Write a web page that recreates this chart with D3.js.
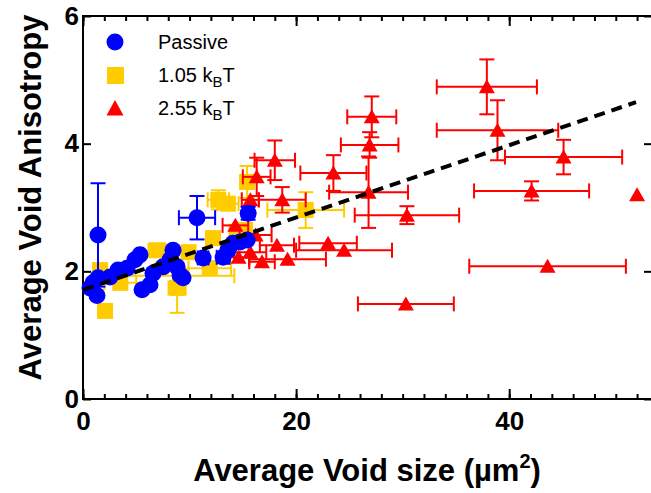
<!DOCTYPE html>
<html>
<head>
<meta charset="utf-8">
<script src="https://cdn.jsdelivr.net/npm/d3@7"></script>
<style>
  body { margin: 0; background: #fff; }
  svg { display: block; font-family: "Liberation Sans", Arial, sans-serif; }
</style>
</head>
<body>
<script>
// Passive: [x, y, xerr, yerr]
const passive = [
    [1.41, 2.57, 0, 0.81], [10.7, 2.84, 1.7, 0.34], [15.5, 2.91, 0.4, 0.1],
    [5.35, 2.26, 0.3, 0], [4.88, 2.18, 0, 0], [4.13, 2.05, 0, 0],
    [3.29, 2.02, 0, 0], [2.54, 1.91, 0, 0], [1.41, 1.90, 0, 0],
    [0.94, 1.82, 0, 0], [1.31, 1.62, 0, 0], [0.66, 1.74, 0, 0],
    [5.54, 1.71, 0, 0], [6.29, 1.79, 0, 0], [6.57, 1.97, 0, 0],
    [8.45, 2.33, 0, 0], [8.17, 2.18, 0, 0], [8.83, 2.07, 0, 0],
    [9.11, 1.94, 0, 0], [7.51, 2.07, 0, 0], [9.39, 1.90, 0, 0],
    [11.27, 2.21, 0.5, 0], [13.15, 2.22, 0.6, 0], [14.08, 2.44, 0, 0],
    [14.74, 2.46, 0, 0], [15.40, 2.49, 0, 0], [13.6, 2.33, 0, 0]
];

// 1.05 kBT
const low = [
    [2.07, 1.38, 0, 0.08], [15.4, 3.40, 0.5, 0.25], [12.7, 3.12, 1.0, 0.15],
    [13.6, 3.06, 1.0, 0], [20.9, 2.96, 3.6, 0.28], [8.83, 1.74, 0.8, 0.39],
    [6.95, 2.33, 0.8, 0.1], [11.9, 2.05, 2.0, 0], [14.4, 2.62, 0, 0],
    [12.2, 2.52, 0, 0], [15.2, 2.65, 0, 0], [9.9, 2.30, 0, 0],
    [1.6, 2.02, 0, 0], [3.5, 1.82, 1.5, 0], [9.1, 1.93, 5.1, 0]
];

// 2.55 kBT
const high = [
    [37.9, 4.89, 4.7, 0.43], [38.9, 4.21, 5.7, 0.47], [45.1, 3.79, 5.5, 0.27],
    [42.1, 3.26, 5.4, 0.15], [52.0, 3.20, 0, 0], [43.6, 2.08, 7.35, 0],
    [30.3, 1.49, 4.5, 0], [30.4, 2.88, 4.9, 0.14], [27.1, 4.42, 2.3, 0.32],
    [26.9, 3.98, 2.7, 0.2], [26.8, 3.24, 3.7, 0.56], [23.5, 3.54, 3.1, 0.28],
    [18.0, 3.74, 1.9, 0.31], [18.7, 3.12, 2.2, 0.2], [16.3, 3.48, 1.3, 0.3],
    [18.2, 2.41, 1.6, 0], [23.0, 2.44, 2.7, 0], [24.5, 2.33, 4.5, 0],
    [19.2, 2.19, 3.6, 0], [15.7, 3.12, 0.8, 0], [14.6, 2.22, 1.0, 0],
    [15.7, 2.30, 1.5, 0], [16.8, 2.15, 1.2, 0], [16.2, 2.57, 1.5, 0],
    [14.3, 2.72, 1.2, 0]
];

// linear fit endpoints
const fitX = [0, 51.9];
const fitY = [1.71, 4.65];

const xMajor = [0, 20, 40];
const yMajor = [0, 2, 4, 6];

const W = 651, H = 493;
const margin = { top: 16, right: -1, bottom: 94, left: 83 };

const svg = d3.select("body").append("svg")
    .attr("width", W)
    .attr("height", H);

const x = d3.scaleLinear().domain([0, 53.4]).range([margin.left, W - margin.right]);
const y = d3.scaleLinear().domain([0, 6]).range([H - margin.bottom, margin.top]);

const blue = "#0000ff", gold = "#ffcc00", red = "#ff0000";

// frame
svg.append("rect")
    .attr("x", x(0)).attr("y", y(6))
    .attr("width", x(53.4) - x(0)).attr("height", y(0) - y(6))
    .attr("fill", "none").attr("stroke", "#000").attr("stroke-width", 2);

const minor = d3.range(0, 54, 2);

function styleAxis(g) {
    g.select(".domain").remove();
    g.selectAll("line").attr("stroke", "#000").attr("stroke-width", 2);
    g.selectAll("text")
        .attr("font-family", "Liberation Sans, Arial, sans-serif")
        .attr("font-weight", "bold")
        .attr("font-size", 26)
        .attr("fill", "#000");
}

// bottom
svg.append("g")
    .attr("transform", `translate(0,${y(0)})`)
    .call(d3.axisBottom(x).tickValues(minor).tickSize(-5).tickFormat(""))
    .call(styleAxis);
svg.append("g")
    .attr("transform", `translate(0,${y(0)})`)
    .call(d3.axisBottom(x).tickValues(xMajor).tickSize(-10).tickPadding(13).tickFormat(d3.format("d")))
    .call(styleAxis);
// top
svg.append("g")
    .attr("transform", `translate(0,${y(6)})`)
    .call(d3.axisTop(x).tickValues(minor).tickSize(-5).tickFormat(""))
    .call(styleAxis);
svg.append("g")
    .attr("transform", `translate(0,${y(6)})`)
    .call(d3.axisTop(x).tickValues(xMajor).tickSize(-10).tickFormat(""))
    .call(styleAxis);
// left
svg.append("g")
    .attr("transform", `translate(${x(0)},0)`)
    .call(d3.axisLeft(y).tickValues(yMajor).tickSize(-8).tickPadding(4).tickFormat(d3.format("d")))
    .call(styleAxis);
// right
svg.append("g")
    .attr("transform", `translate(${x(53.4)},0)`)
    .call(d3.axisRight(y).tickValues(yMajor).tickSize(-8).tickFormat(""))
    .call(styleAxis);

// error bars + markers
const cap = 7.5;

function errorBars(data, color) {
    const g = svg.append("g").attr("stroke", color).attr("stroke-width", 2).attr("fill", "none");
    data.forEach(d => {
        const [vx, vy, ex, ey] = d;
        if (ex > 0) {
            g.append("line").attr("x1", x(vx - ex)).attr("x2", x(vx + ex)).attr("y1", y(vy)).attr("y2", y(vy));
            [vx - ex, vx + ex].forEach(e => g.append("line")
                .attr("x1", x(e)).attr("x2", x(e)).attr("y1", y(vy) - cap).attr("y2", y(vy) + cap));
        }
        if (ey > 0) {
            g.append("line").attr("x1", x(vx)).attr("x2", x(vx)).attr("y1", y(vy - ey)).attr("y2", y(vy + ey));
            [vy - ey, vy + ey].forEach(e => g.append("line")
                .attr("x1", x(vx) - cap).attr("x2", x(vx) + cap).attr("y1", y(e)).attr("y2", y(e)));
        }
    });
}

const triPath = "M0,-7.5L8,6.5L-8,6.5Z";

function drawSeries(data, color, shape) {
    errorBars(data, color);
    const g = svg.append("g");
    data.forEach(d => {
        const cx = x(d[0]), cy = y(d[1]);
        if (shape === "circle") {
            g.append("circle").attr("cx", cx).attr("cy", cy).attr("r", 8.5).attr("fill", color);
        } else if (shape === "square") {
            g.append("rect").attr("x", cx - 8).attr("y", cy - 8).attr("width", 16).attr("height", 16).attr("fill", color);
        } else {
            g.append("path").attr("d", triPath).attr("transform", `translate(${cx},${cy})`).attr("fill", color);
        }
    });
}

drawSeries(low, gold, "square");
drawSeries(high, red, "triangle");
drawSeries(passive, blue, "circle");

// fit line
svg.append("line")
    .attr("x1", x(fitX[0])).attr("y1", y(fitY[0]))
    .attr("x2", x(fitX[1])).attr("y2", y(fitY[1]))
    .attr("stroke", "#000")
    .attr("stroke-width", 4)
    .attr("stroke-dasharray", "11,7");

// legend
const legend = svg.append("g");
const rows = [
    { shape: "circle", color: blue, label: "Passive" },
    { shape: "square", color: gold, label: "1.05 k", sub: "B", tail: "T" },
    { shape: "triangle", color: red, label: "2.55 k", sub: "B", tail: "T" }
];
rows.forEach((r, i) => {
    const ly = 42 + i * 33;
    if (r.shape === "circle") legend.append("circle").attr("cx", 115).attr("cy", ly).attr("r", 8.5).attr("fill", r.color);
    else if (r.shape === "square") legend.append("rect").attr("x", 107).attr("y", ly - 8).attr("width", 17).attr("height", 17).attr("fill", r.color);
    else legend.append("path").attr("d", "M0,-8L8.5,7.5L-8.5,7.5Z").attr("transform", `translate(115,${ly})`).attr("fill", r.color);
    const t = legend.append("text").attr("x", 158).attr("y", ly + 7).attr("font-size", 20).attr("fill", "#000").text(r.label);
    if (r.sub) {
        t.append("tspan").attr("font-size", 15).attr("dy", 5).text(r.sub);
        t.append("tspan").attr("dy", -5).text(r.tail);
    }
});

// axis titles
const xt = svg.append("text")
    .attr("x", (x(0) + 651) / 2)
    .attr("y", 481)
    .attr("text-anchor", "middle")
    .attr("font-weight", "bold")
    .attr("font-size", 31)
    .text("Average Void size (µm");
xt.append("tspan").attr("font-size", 20).attr("dy", -13).text("2");
xt.append("tspan").attr("dy", 13).text(")");

svg.append("text")
    .attr("transform", `translate(41,${(y(0) + y(6)) / 2 - 10}) rotate(-90)`)
    .attr("text-anchor", "middle")
    .attr("font-weight", "bold")
    .attr("font-size", 31)
    .text("Average Void Anisotropy");
</script>
</body>
</html>
